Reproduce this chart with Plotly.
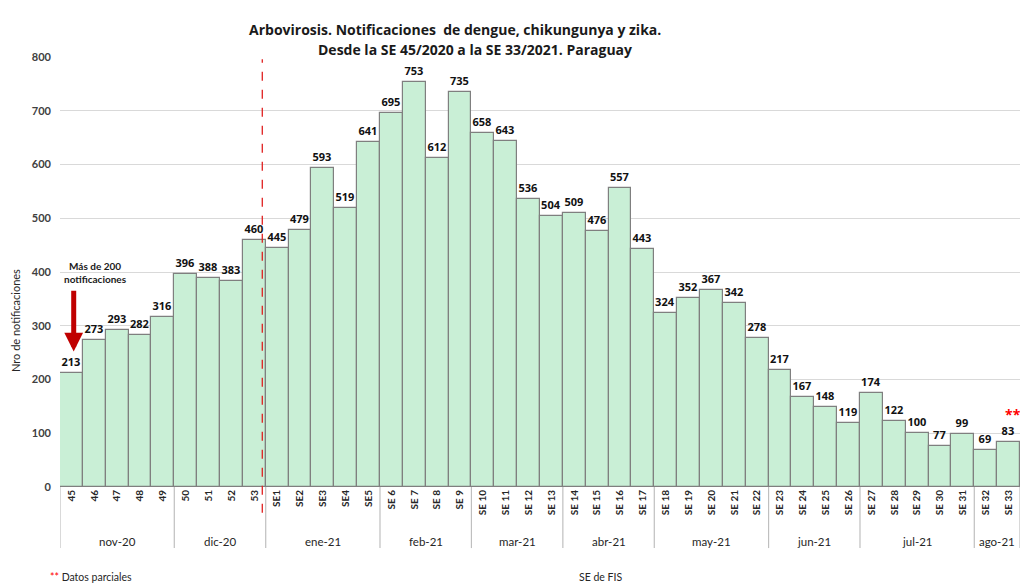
import plotly.graph_objects as go

weeks = ["45", "46", "47", "48", "49", "50", "51", "52", "53",
         "SE1", "SE2", "SE3", "SE4", "SE5",
         "SE 6", "SE 7", "SE 8", "SE 9", "SE 10", "SE 11", "SE 12", "SE 13",
         "SE 14", "SE 15", "SE 16", "SE 17", "SE 18", "SE 19", "SE 20", "SE 21", "SE 22",
         "SE 23", "SE 24", "SE 25", "SE 26", "SE 27", "SE 28", "SE 29", "SE 30", "SE 31",
         "SE 32", "SE 33"]
values = [213, 273, 293, 282, 316, 396, 388, 383, 460,
          445, 479, 593, 519, 641,
          695, 753, 612, 735, 658, 643, 536, 504,
          509, 476, 557, 443, 324, 352, 367, 342, 278,
          217, 167, 148, 119, 174, 122, 100, 77, 99,
          69, 83]
months = ["nov-20", "dic-20", "ene-21", "feb-21", "mar-21", "abr-21",
          "may-21", "jun-21", "jul-21", "ago-21"]
month_counts = [5, 4, 5, 4, 4, 4, 5, 4, 5, 2]

FONT = "Lato"
TFONT = "Open Sans"
x = list(range(len(weeks)))

fig = go.Figure()
fig.add_trace(go.Bar(
    x=x, y=values,
    marker=dict(color="#c9efd6", line=dict(color="#7f7f7f", width=1.2)),
    text=[str(v) for v in values], textposition="outside",
    textfont=dict(family=TFONT, size=11, color="#111111", weight="bold"),
    cliponaxis=False, hoverinfo="skip",
))

shapes = []
annotations = []
start = -0.5
for m, c in zip(months, month_counts):
    shapes.append(dict(type="line", xref="x", yref="paper", x0=start, x1=start,
                       y0=0, y1=-0.142, line=dict(color="#bfbfbf", width=1.2)))
    annotations.append(dict(x=start + c / 2, y=-0.126, xref="x", yref="paper",
                            text=m, showarrow=False, yanchor="middle",
                            font=dict(family=FONT, size=11.5, color="#262626")))
    start += c
shapes.append(dict(type="line", xref="x", yref="paper", x0=start, x1=start,
                   y0=0, y1=-0.142, line=dict(color="#bfbfbf", width=1.2)))

# dashed red line
shapes.append(dict(type="line", xref="x", yref="paper", x0=8.35, x1=8.35,
                   y0=-0.06, y1=0.995, line=dict(color="#e02020", width=1.3, dash="dash")))

annotations += [
    dict(text="<b>Arbovirosis. Notificaciones  de dengue, chikungunya y zika.</b>",
         x=(455 - 60) / 960, y=(487 - 18) / 430, xref="paper", yref="paper", showarrow=False,
         font=dict(family=TFONT, size=14, color="#1a1a1a")),
    dict(text="<b>Desde la SE 45/2020 a la SE 33/2021. Paraguay</b>",
         x=(475 - 60) / 960, y=(487 - 38) / 430, xref="paper", yref="paper", showarrow=False,
         font=dict(family=TFONT, size=14, color="#1a1a1a")),
    dict(text="<b>Más de 200<br>notificaciones</b>", x=1.05, y=400, xref="x", yref="y",
         showarrow=False, font=dict(family=FONT, size=10, color="#1a1a1a")),
    dict(x=0.1, y=252, ax=0.1, ay=368, xref="x", yref="y", axref="x", ayref="y",
         text="", showarrow=True, arrowhead=2, arrowsize=0.75, arrowwidth=5,
         arrowcolor="#c00000"),
    dict(text="<b>**</b>", x=41.2, y=134, xref="x", yref="y", showarrow=False,
         font=dict(family=TFONT, size=14, color="#ff0000")),
    dict(text="Nro de notificaciones", textangle=-90,
         x=(15 - 60) / 960, y=(487 - 321) / 430, xref="paper", yref="paper",
         xanchor="center", showarrow=False, font=dict(family=FONT, size=11, color="#262626")),
    dict(text="SE de FIS", x=(600 - 60) / 960, y=(487 - 577) / 430, xref="paper", yref="paper",
         showarrow=False, yanchor="middle", font=dict(family=FONT, size=10.5, color="#262626")),
    dict(text="<span style='color:#ff0000'>**</span> Datos parciales",
         x=(48 - 60) / 960, y=(487 - 577) / 430, xref="paper", yref="paper",
         xanchor="left", yanchor="middle", showarrow=False,
         font=dict(family=FONT, size=10.5, color="#262626")),
]

fig.update_layout(
    width=1020, height=588,
    margin=dict(l=60, r=0, t=57, b=101, autoexpand=False),
    plot_bgcolor="white", paper_bgcolor="white",
    bargap=0, showlegend=False,
    shapes=shapes, annotations=annotations,
    xaxis=dict(tickmode="array", tickvals=x, ticktext=weeks, tickangle=-90,
               range=[-0.5, len(weeks) - 0.5], showgrid=False, zeroline=False,
               showline=False, ticks="", automargin=False,
               tickfont=dict(family=FONT, size=10, color="#262626", weight="bold")),
    yaxis=dict(range=[0, 800], dtick=100, showgrid=True, gridcolor="#d9d9d9",
               zeroline=False, showline=False, ticks="", automargin=False,
               ticklabelstandoff=8,
               tickfont=dict(family=FONT, size=11, color="#404040", weight="bold")),
)

fig.write_html("out.html", config={"displayModeBar": False},
               post_script="document.body.style.margin='0';document.body.style.padding='0';")
